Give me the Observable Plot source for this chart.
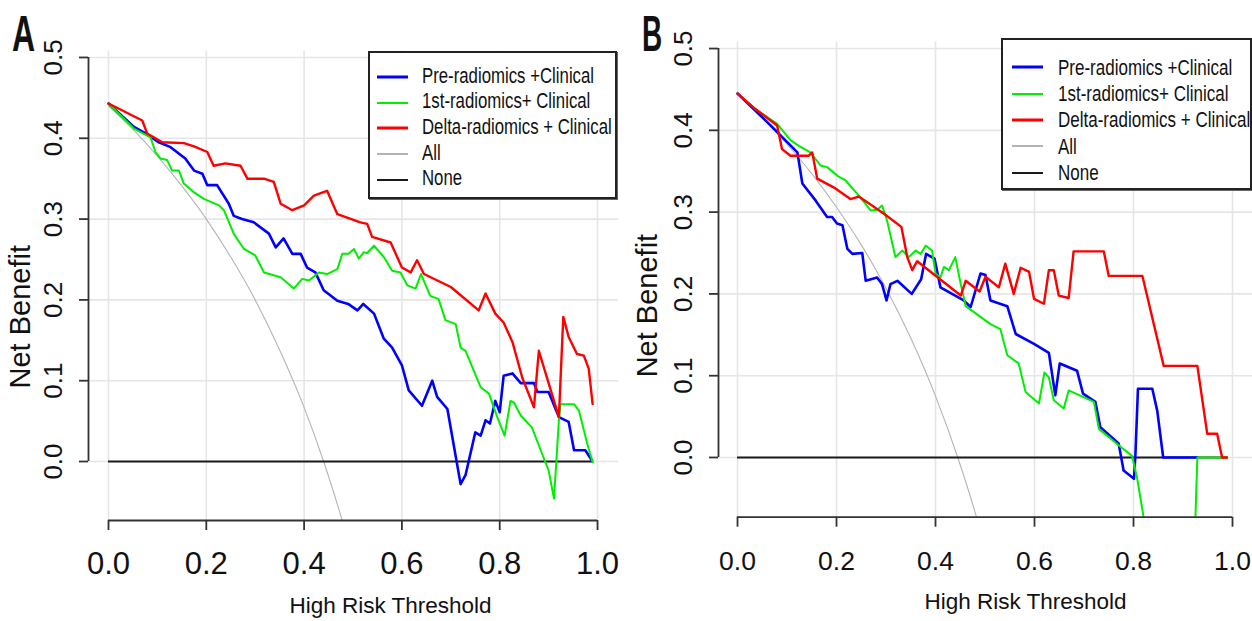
<!DOCTYPE html>
<html>
<head>
<meta charset="utf-8">
<script src="https://cdn.jsdelivr.net/npm/d3@7"></script>
<script src="https://cdn.jsdelivr.net/npm/@observablehq/plot@0.6"></script>
<style>
  html, body { margin: 0; padding: 0; background: #fff; }
  #wrap { position: relative; width: 1252px; height: 621px; overflow: hidden; background: #fff; }
  .panel { position: absolute; top: 0; }
  .tag { position: absolute; font-family: "Liberation Sans", Arial, sans-serif; font-weight: bold; font-size: 50px; line-height: 1; color: #111; transform-origin: left top; }
  .legend { position: absolute; box-sizing: border-box; border: 2px solid #222; background: #fff; box-shadow: 1px 1px 0 #666; }
  .row { display: flex; align-items: center; font-family: "Liberation Sans", Arial, sans-serif; font-size: 16.8px; color: #111; line-height: 1; white-space: nowrap; }
  .row svg { flex: none; }
  .row span { display: inline-block; transform: scaleY(1.3); transform-origin: left center; }
</style>
</head>
<body>
<div id="wrap">
  <div id="pA" class="panel" style="left:0px"></div>
  <div id="pB" class="panel" style="left:626px"></div>
</div>
<script>
// ---------- data ----------
const xTicks = [0, 0.2, 0.4, 0.6, 0.8, 1.0];
const yTicks = [0, 0.1, 0.2, 0.3, 0.4, 0.5];
const seriesNames = ["Pre-radiomics +Clinical", "1st-radiomics+ Clinical", "Delta-radiomics + Clinical", "All", "None"];

// Panel A  [threshold, net benefit]
const preA = [[0,0.443],[0.052,0.414],[0.076,0.406],[0.103,0.395],[0.127,0.389],[0.157,0.375],[0.175,0.36],[0.192,0.356],[0.202,0.342],[0.222,0.342],[0.246,0.319],[0.256,0.304],[0.273,0.30],[0.297,0.296],[0.328,0.282],[0.342,0.265],[0.358,0.276],[0.376,0.257],[0.393,0.257],[0.406,0.240],[0.423,0.234],[0.44,0.212],[0.468,0.199],[0.49,0.195],[0.509,0.187],[0.521,0.195],[0.543,0.183],[0.563,0.152],[0.58,0.141],[0.60,0.119],[0.614,0.088],[0.641,0.069],[0.662,0.10],[0.672,0.080],[0.693,0.065],[0.72,-0.028],[0.73,-0.017],[0.75,0.036],[0.761,0.032],[0.771,0.051],[0.78,0.047],[0.791,0.075],[0.80,0.061],[0.808,0.106],[0.826,0.109],[0.843,0.097],[0.87,0.097],[0.877,0.086],[0.90,0.086],[0.921,0.055],[0.941,0.049],[0.952,0.014],[0.975,0.014],[0.989,0.001]];
const firstA = [[0,0.443],[0.052,0.412],[0.086,0.401],[0.096,0.383],[0.106,0.375],[0.12,0.373],[0.13,0.36],[0.144,0.36],[0.154,0.344],[0.175,0.333],[0.195,0.325],[0.226,0.317],[0.236,0.311],[0.256,0.282],[0.277,0.263],[0.30,0.255],[0.318,0.234],[0.352,0.228],[0.379,0.214],[0.396,0.226],[0.41,0.224],[0.43,0.234],[0.447,0.232],[0.468,0.238],[0.478,0.257],[0.491,0.257],[0.502,0.263],[0.512,0.251],[0.522,0.259],[0.529,0.258],[0.543,0.267],[0.563,0.253],[0.58,0.236],[0.597,0.234],[0.611,0.218],[0.628,0.214],[0.639,0.232],[0.658,0.205],[0.675,0.201],[0.689,0.175],[0.71,0.170],[0.72,0.141],[0.73,0.137],[0.761,0.092],[0.778,0.084],[0.795,0.055],[0.81,0.032],[0.822,0.075],[0.829,0.073],[0.843,0.057],[0.866,0.042],[0.887,0.009],[0.90,-0.011],[0.911,-0.046],[0.921,0.051],[0.924,0.071],[0.952,0.071],[0.962,0.063],[0.979,0.022],[0.99,-0.001]];
const deltaA = [[0,0.443],[0.069,0.422],[0.079,0.406],[0.11,0.395],[0.154,0.394],[0.175,0.39],[0.202,0.383],[0.215,0.366],[0.239,0.369],[0.27,0.366],[0.284,0.35],[0.318,0.35],[0.338,0.346],[0.352,0.319],[0.376,0.311],[0.40,0.317],[0.42,0.329],[0.447,0.335],[0.468,0.306],[0.515,0.296],[0.529,0.294],[0.539,0.278],[0.577,0.271],[0.60,0.24],[0.618,0.234],[0.631,0.249],[0.645,0.232],[0.70,0.216],[0.757,0.187],[0.771,0.208],[0.791,0.183],[0.808,0.172],[0.826,0.148],[0.846,0.104],[0.87,0.067],[0.88,0.137],[0.911,0.075],[0.921,0.055],[0.93,0.179],[0.941,0.154],[0.958,0.133],[0.972,0.131],[0.982,0.115],[0.99,0.071]];
const allA = [[0,0.44],[0.05,0.411],[0.1,0.378],[0.15,0.341],[0.2,0.30],[0.25,0.253],[0.3,0.20],[0.35,0.138],[0.4,0.067],[0.44,0.0],[0.478,-0.073],[0.49,-0.098]];

// Panel B
const preB = [[0,0.445],[0.05,0.416],[0.08,0.398],[0.121,0.373],[0.131,0.335],[0.158,0.314],[0.181,0.294],[0.191,0.294],[0.201,0.286],[0.212,0.284],[0.222,0.255],[0.232,0.249],[0.252,0.25],[0.259,0.216],[0.282,0.22],[0.292,0.212],[0.301,0.192],[0.309,0.212],[0.323,0.216],[0.352,0.20],[0.371,0.218],[0.381,0.249],[0.398,0.243],[0.41,0.208],[0.457,0.192],[0.471,0.184],[0.491,0.225],[0.501,0.223],[0.511,0.192],[0.545,0.185],[0.562,0.151],[0.599,0.139],[0.629,0.128],[0.642,0.076],[0.651,0.115],[0.686,0.106],[0.698,0.078],[0.723,0.068],[0.733,0.037],[0.77,0.017],[0.78,-0.016],[0.801,-0.026],[0.804,0.005],[0.809,0.084],[0.838,0.084],[0.848,0.057],[0.86,0.0],[0.929,0.0]];
const firstB = [[0,0.445],[0.036,0.426],[0.08,0.408],[0.107,0.388],[0.124,0.381],[0.147,0.373],[0.168,0.357],[0.181,0.355],[0.205,0.343],[0.218,0.339],[0.248,0.318],[0.269,0.302],[0.282,0.303],[0.292,0.308],[0.302,0.29],[0.319,0.245],[0.333,0.253],[0.346,0.245],[0.36,0.253],[0.37,0.249],[0.38,0.259],[0.393,0.253],[0.40,0.225],[0.41,0.22],[0.417,0.233],[0.427,0.229],[0.44,0.245],[0.451,0.212],[0.461,0.185],[0.511,0.163],[0.531,0.157],[0.545,0.125],[0.568,0.115],[0.582,0.08],[0.609,0.066],[0.62,0.104],[0.629,0.098],[0.639,0.07],[0.659,0.06],[0.669,0.082],[0.72,0.068],[0.73,0.035],[0.77,0.015],[0.797,0.002],[0.807,-0.024],[0.821,-0.075],[0.83,-0.15],[0.92,-0.15],[0.925,-0.075],[0.929,0.0],[0.989,0.0]];
const deltaB = [[0,0.445],[0.036,0.426],[0.08,0.406],[0.09,0.377],[0.107,0.369],[0.144,0.369],[0.151,0.373],[0.161,0.341],[0.195,0.33],[0.228,0.316],[0.245,0.319],[0.296,0.298],[0.331,0.282],[0.343,0.245],[0.353,0.229],[0.363,0.24],[0.451,0.198],[0.461,0.216],[0.489,0.203],[0.501,0.221],[0.528,0.208],[0.541,0.237],[0.558,0.20],[0.572,0.232],[0.589,0.227],[0.599,0.194],[0.619,0.188],[0.629,0.229],[0.639,0.229],[0.649,0.198],[0.669,0.195],[0.679,0.252],[0.74,0.252],[0.75,0.222],[0.818,0.222],[0.861,0.112],[0.929,0.112],[0.949,0.029],[0.969,0.029],[0.979,0.0],[0.989,0.0]];
const allB = [[0,0.445],[0.05,0.416],[0.1,0.383],[0.15,0.347],[0.2,0.306],[0.25,0.26],[0.3,0.207],[0.35,0.146],[0.4,0.075],[0.445,0.0],[0.48,-0.067],[0.49,-0.088]];

// ---------- styling / layout ----------
const colors = ["#0000ff", "#00ee00", "#ff0000", "#b4b4b4", "#1a1a1a"];
const widths = [2.6, 2.0, 2.4];
const SANS = '"Liberation Sans", Arial, sans-serif';

function panel(cfg) {
  const ymin = cfg.yd[0], xmin = cfg.xd[0];
  const models = [cfg.pre, cfg.first, cfg.delta];
  return Plot.plot({
    width: 626, height: 621,
    marginLeft: cfg.ml, marginRight: cfg.mr, marginTop: cfg.mt, marginBottom: cfg.mb,
    x: {domain: cfg.xd},
    y: {domain: cfg.yd},
    style: {background: "transparent", overflow: "visible", color: "#333", fontFamily: SANS},
    marks: [
      Plot.gridX(xTicks, {stroke: "#e6e6e6", strokeOpacity: 1, strokeWidth: 1.6}),
      Plot.gridY(yTicks, {stroke: "#e6e6e6", strokeOpacity: 1, strokeWidth: 1.6}),
      Plot.line(cfg.all, {x: d => d[0], y: d => d[1], stroke: colors[3], strokeWidth: 1.1, curve: "monotone-x", clip: true}),
      Plot.ruleY([0], {x1: 0, x2: 0.99, stroke: colors[4], strokeWidth: 2}),
      ...models.map((s, i) => Plot.line(s, {x: d => d[0], y: d => d[1], stroke: colors[i], strokeWidth: widths[i], clip: true})),
      Plot.ruleX([xmin], {y1: 0, y2: 0.5, stroke: "#333", strokeWidth: 1.8}),
      Plot.ruleY([ymin], {x1: 0, x2: 1, stroke: "#333", strokeWidth: 1.8}),
      Plot.axisX(xTicks, {anchor: "bottom", tickSize: 10, tickFormat: () => "", strokeWidth: 1.8, label: null}),
      Plot.axisY(yTicks, {anchor: "left", tickSize: 9, tickFormat: () => "", strokeWidth: 1.8, label: null}),
      Plot.text(xTicks, {ariaLabel: "xticklabels", x: d => d, y: ymin, dy: cfg.xlabDy, text: d => d.toFixed(1), fontSize: cfg.xlabSize, fontFamily: SANS, fill: "#111"}),
      Plot.text(yTicks, {x: xmin, y: d => d, dx: -35, rotate: -90, text: d => d.toFixed(1), fontSize: 26, fontFamily: SANS, fill: "#111"}),
      Plot.text(["Net Benefit"], {ariaLabel: "ytitle", text: d => d, frameAnchor: "left", textAnchor: "middle", lineAnchor: "middle", dx: cfg.ylabDx, dy: cfg.ylabDy, rotate: -90, fontSize: 29, fontFamily: SANS, fill: "#111"}),
      Plot.text(["High Risk Threshold"], {ariaLabel: "xtitle", text: d => d, frameAnchor: "bottom", textAnchor: "middle", lineAnchor: "middle", dx: cfg.xtDx, dy: 85, fontSize: 22.5, fontFamily: SANS, fill: "#111"})
    ]
  });
}

// stretch text glyphs like the (vertically stretched) original figure
function stretch(svg, label, sx, sy) {
  svg.querySelectorAll(`g[aria-label="${label}"] text`).forEach(t => {
    const tr = t.getAttribute("transform") || "";
    const x = +t.getAttribute("x") || 0, y = +t.getAttribute("y") || 0;
    t.setAttribute("transform", `${tr} translate(${x},${y}) scale(${sx},${sy}) translate(${-x},${-y})`);
  });
}

const cfgA = {pre: preA, first: firstA, delta: deltaA, all: allA,
  xd: [-0.0409, 1.0429], yd: [-0.073, 0.508], ml: 88, mr: 8, mt: 50.5, mb: 101,
  xlabDy: 44, xlabSize: 31, xlabSy: 1.22, ylabDx: -68, ylabDy: 31, xtDx: 37};
const cfgB = {pre: preB, first: firstB, delta: deltaB, all: allB,
  xd: [-0.0384, 1.0404], yd: [-0.073, 0.508], ml: 92, mr: 0, mt: 41.5, mb: 104.3,
  xlabDy: 44, xlabSize: 26.5, xlabSy: 1.28, ylabDx: -71, ylabDy: 26, xtDx: 40};

[[cfgA, "pA"], [cfgB, "pB"]].forEach(([cfg, id]) => {
  const svg = panel(cfg);
  stretch(svg, "xticklabels", 1, cfg.xlabSy);
  stretch(svg, "ytitle", 1.2, 1);
  stretch(svg, "xtitle", 1, 1.25);
  document.getElementById(id).appendChild(svg);
});

// ---------- panel tags and legends ----------
const wrap = document.getElementById("wrap");
function tag(t, left, top, sx) {
  const d = document.createElement("div");
  d.className = "tag"; d.textContent = t;
  d.style.left = left + "px"; d.style.top = top + "px";
  d.style.transform = `scaleX(${sx})`;
  wrap.appendChild(d);
}
tag("A", 12, 8.5, 0.64);
tag("B", 642, 8.5, 0.56);

const lwLegend = [3, 2, 3, 2, 2];
function legend(box) {
  const L = document.createElement("div");
  L.className = "legend";
  Object.assign(L.style, {left: box.left + "px", top: box.top + "px", width: box.w + "px", height: box.h + "px", paddingTop: box.pt + "px"});
  seriesNames.forEach((name, i) => {
    const r = document.createElement("div");
    r.className = "row";
    r.style.height = box.rh + "px";
    r.style.paddingLeft = box.pl + "px";
    r.style.fontSize = box.fs + "px";
    r.innerHTML = `<svg width="31" height="6"><line x1="0" x2="31" y1="3" y2="3" stroke="${colors[i]}" stroke-width="${lwLegend[i]}"/></svg><span style="margin-left:${box.gap}px">${name}</span>`;
    L.appendChild(r);
  });
  wrap.appendChild(L);
}
legend({left: 368, top: 51, w: 249, h: 148, pt: 11.5, rh: 25.6, pl: 7, gap: 14, fs: 16.8});
legend({left: 1001, top: 38, w: 251, h: 152, pt: 14, rh: 26.4, pl: 9, gap: 15, fs: 17});
</script>
</body>
</html>
